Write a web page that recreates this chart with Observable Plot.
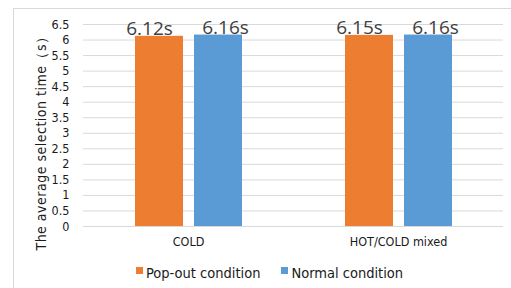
<!DOCTYPE html>
<html>
<head>
<meta charset="utf-8">
<script src="https://cdn.jsdelivr.net/npm/d3@7"></script>
<script src="https://cdn.jsdelivr.net/npm/@observablehq/plot@0.6"></script>
<style>
  body { margin: 0; background: #fff; }
  #wrap { position: relative; width: 511px; height: 288px; overflow: hidden; font-family: "DejaVu Sans Condensed", "Liberation Sans Narrow", Roboto, sans-serif; }
  #frame { position: absolute; left: 13px; top: 8px; width: 520px; height: 300px; border-left: 1px solid #d9d9d9; border-top: 1px solid #d9d9d9; }
  #chart { position: absolute; left: 0; top: 0; }
  #ylabel { position: absolute; left: 41.5px; top: 139.5px; transform: translate(-50%, -50%) rotate(-90deg); white-space: nowrap; font-size: 14px; color: #1a1a1a; letter-spacing: 0.5px; }
  #legend { position: absolute; top: 265px; left: 136px; display: flex; align-items: center; font-size: 14.5px; color: #1a1a1a; }
  .item { display: flex; align-items: center; margin-right: 21px; }
  .sw { width: 7px; height: 7px; margin-right: 3px; margin-top: -5px; }
</style>
</head>
<body>
<div id="wrap">
  <div id="frame"></div>
  <div id="chart"></div>
  <div id="ylabel">The average selection time（s）</div>
  <div id="legend"></div>
</div>
<script>
const categories = ["COLD", "HOT/COLD mixed"];
const series = ["Pop-out condition", "Normal condition"];
const popOut = [6.12, 6.15];
const normal = [6.16, 6.16];
const valueLabels = [["6.12s", "6.15s"], ["6.16s", "6.16s"]];
const yTicks = [0, 0.5, 1, 1.5, 2, 2.5, 3, 3.5, 4, 4.5, 5, 5.5, 6, 6.5];
const colors = ["#ED7D31", "#5B9BD5"];

const seriesValues = [popOut, normal];
const table = [];
series.forEach((s, si) => categories.forEach((c, ci) => {
  table.push({category: c, series: s, value: seriesValues[si][ci], label: valueLabels[si][ci]});
}));

const labelFont = '"Open Sans", "Liberation Sans", sans-serif';
const chart = Plot.plot({
  width: 511,
  height: 258,
  marginLeft: 83,
  marginRight: 8,
  marginTop: 24,
  marginBottom: 32,
  style: {fontFamily: '"DejaVu Sans Condensed", "Liberation Sans Narrow", Roboto, sans-serif', fontSize: "12.5px", color: "#1a1a1a", background: "transparent"},
  fx: {domain: categories, padding: 0, label: null, axis: "bottom", tickSize: 0, tickPadding: 11},
  x: {domain: series, axis: null, paddingInner: 0.19, paddingOuter: 0.87},
  y: {domain: [0, 6.5], ticks: yTicks, tickFormat: d => String(d), tickSize: 0, tickPadding: 14, label: null},
  color: {domain: series, range: colors},
  marks: [
    Plot.ruleY(yTicks, {stroke: "#d9d9d9", strokeOpacity: 1}),
    Plot.barY(table, {fx: "category", x: "series", y: "value", fill: "series"}),
    Plot.text(table.filter(d => d.series === series[0]), {fx: "category", x: "series", y: "value", text: "label", lineAnchor: "bottom", dy: -1, dx: -10, fontSize: 19, fill: "#404040", fontFamily: labelFont}),
    Plot.text(table.filter(d => d.series === series[1]), {fx: "category", x: "series", y: "value", text: "label", lineAnchor: "bottom", dy: -1, dx: 7, fontSize: 19, fill: "#404040", fontFamily: labelFont})
  ]
});
document.getElementById("chart").appendChild(chart);

const legend = document.getElementById("legend");
series.forEach((s, i) => {
  const item = document.createElement("div");
  item.className = "item";
  const sw = document.createElement("span");
  sw.className = "sw";
  sw.style.background = colors[i];
  const t = document.createElement("span");
  t.textContent = s;
  item.appendChild(sw);
  item.appendChild(t);
  legend.appendChild(item);
});
</script>
</body>
</html>
